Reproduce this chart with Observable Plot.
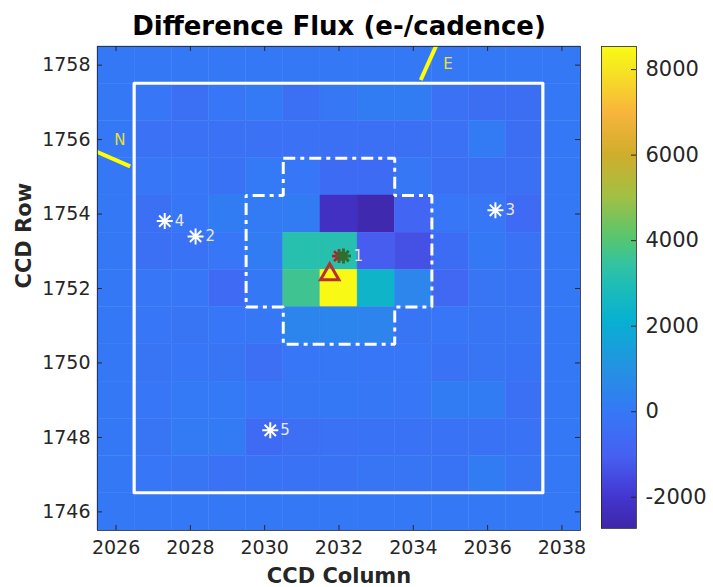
<!DOCTYPE html>
<html><head><meta charset="utf-8">
<script src="https://cdn.jsdelivr.net/npm/d3@7"></script>
<script src="https://cdn.jsdelivr.net/npm/@observablehq/plot@0.6"></script>
<style>
body{margin:0;background:#fff;}
#wrap{position:relative;width:713px;height:587px;}
#wrap svg{position:absolute;top:0;}
</style></head><body><div id="wrap"></div>
<script>
// ---- data ----
const columns = [2026,2027,2028,2029,2030,2031,2032,2033,2034,2035,2036,2037,2038];
const rows = [1758,1757,1756,1755,1754,1753,1752,1751,1750,1749,1748,1747,1746];
// difference flux (e-/cadence), rows top (1758) to bottom (1746), columns 2026..2038
const flux = [
  [0,    0,    0,    0,    0,    0,    0,    0,    0,    0,    0,    0,   0],
  [0, -100, -350, -100,   50, -350,  -50,  150,  150, -300, -450, -450,  0],
  [0, -300, -300, -300, -300, -300, -350, -350, -350, -300,  100, -450,  0],
  [0, -100, -100, -250,   50, -100, -550, -550,  -50, -350, -350, -350,  0],
  [0, -350, -100,  150,  100,  150,-2250,-2600, -800, -100, -100, -600,  0],
  [0, -350, -250, -100,  150, 3150, 3150,-1100,-1400, -500,    0, -250,  0],
  [0, -100, -100, -600,    0, 3650, 8500, 2400,  550, -700, -150, -200,  0],
  [0, -100, -150, -100,  -50,  500,  500,  450, -150, -100, -150, -150,  0],
  [0, -150, -100, -150, -400, -100,  -50, -100, -100, -250, -150, -200,  0],
  [0, -100,   50,   50, -100,  -50,    0,  -50, -100,  150,  150, -350,  0],
  [0, -150,  100,  100, -600, -400, -300, -250, -250, -250, -250, -250,  0],
  [0, -100, -150, -300, -200, -250, -250, -150, -150, -200,  150, -150,  0],
  [0,    0,    0,    0,    0,    0,    0,    0,    0,    0,    0,    0,   0]
];
const xTicks = [2026,2028,2030,2032,2034,2036,2038];
const yTicks = [1746,1748,1750,1752,1754,1756,1758];
const colorTicks = [-2000,0,2000,4000,6000,8000];
const colorDomain = [-2730, 8540];
// target pixel stamp (white box)
const stampCols = [2027, 2037];
const stampRows = [1747, 1757];
// optimal aperture: per row, first and last column
const apertureRows = [1755, 1754, 1753, 1752, 1751];
const apertureFirstCol = [2031, 2030, 2030, 2030, 2031];
const apertureLastCol = [2033, 2034, 2034, 2034, 2033];
// catalog stars
const starLabels = ["1","2","3","4","5"];
const starCols = [2032.12, 2028.14, 2036.21, 2027.31, 2030.15];
const starRows = [1752.87, 1753.40, 1754.10, 1753.81, 1748.19];
// difference-image centroid (red triangle)
const centroidCol = [2031.75];
const centroidRow = [1752.38];
// compass
const compassLabels = ["N","E"];
const compassCol0 = [2026.38, 2034.20];
const compassRow0 = [1755.28, 1757.60];
const compassCol1 = [2025.30, 2034.66];
const compassRow1 = [1755.75, 1758.62];
const compassLabelCol = [2026.10, 2034.93];
const compassLabelRow = [1755.98, 1758.03];

// parula-like colormap stops
const cmapStops  = [0.000,0.065,0.150,0.242,0.330,0.430,0.500,0.550,0.600,0.690,0.775,0.860,0.950,1.000];
const cmapColors = ["#3e26a8","#4336d0","#4660f2","#3578f6","#2492e2","#08b0d2","#1dbcb8","#35c3a0","#55c670","#a2c043","#d0ad2c","#f8b43c","#f6e422","#f9fb15"];

// ---- build ----
const cmap = d3.scaleLinear().domain(cmapStops).range(cmapColors).interpolate(d3.interpolateRgb).clamp(true);
const colorOpts = {type: "linear", domain: colorDomain, interpolate: t => cmap(t)};

const cells = [];
rows.forEach((r, i) => columns.forEach((c, j) => cells.push({col: c, row: r, v: flux[i][j]})));

const stamp = [{x1: stampCols[0] - 0.5, x2: stampCols[1] + 0.5, y1: stampRows[0] - 0.5, y2: stampRows[1] + 0.5}];

const apStart = {x: apertureFirstCol[0] - 0.5, y: apertureRows[0] + 0.5};
const apertureLine = [apStart];
apertureRows.forEach((r, i) => {
  apertureLine.push({x: apertureLastCol[i] + 0.5, y: r + 0.5});
  apertureLine.push({x: apertureLastCol[i] + 0.5, y: r - 0.5});
});
for (let i = apertureRows.length - 1; i >= 0; i--) {
  const r = apertureRows[i];
  apertureLine.push({x: apertureFirstCol[i] - 0.5, y: r - 0.5});
  apertureLine.push({x: apertureFirstCol[i] - 0.5, y: r + 0.5});
}

const stars = starLabels.map((s, i) => ({label: s, col: starCols[i], row: starRows[i]}));
const centroid = centroidCol.map((c, i) => ({col: c, row: centroidRow[i]}));
const compass = compassLabels.map((s, i) => ({label: s, c0: compassCol0[i], r0: compassRow0[i], c1: compassCol1[i], r1: compassRow1[i], lc: compassLabelCol[i], lr: compassLabelRow[i]}));

const asterisk = {draw(ctx, size) {
  const r = Math.sqrt(size / Math.PI);
  for (let k = 0; k < 4; k++) {
    const a = k * Math.PI / 4, cx = r * Math.cos(a), cy = r * Math.sin(a);
    ctx.moveTo(cx, cy); ctx.lineTo(-cx, -cy);
  }
}};

const W = 713, H = 587, mL = 97, mR = 133, mT = 46, mB = 57;
const fw = W - mL - mR, fh = H - mT - mB;
const ink = "#262626";

const main = Plot.plot({
  width: W, height: H,
  marginLeft: mL, marginRight: mR, marginTop: mT, marginBottom: mB,
  style: {fontFamily: "DejaVu Sans, sans-serif", color: ink, background: "transparent", overflow: "visible"},
  x: {domain: [2025.5, 2038.5]},
  y: {domain: [1745.5, 1758.5]},
  color: colorOpts,
  marks: [
    Plot.rect(cells, {x1: d => d.col - 0.5, x2: d => d.col + 0.5, y1: d => d.row - 0.5, y2: d => d.row + 0.5, fill: "v", stroke: "v", strokeWidth: 0.4}),
    Plot.rect(stamp, {x1: "x1", x2: "x2", y1: "y1", y2: "y2", fill: "none", stroke: "white", strokeWidth: 3.2, strokeLinejoin: "round"}),
    Plot.line(apertureLine, {x: "x", y: "y", stroke: "white", strokeWidth: 3, strokeDasharray: "12,5,4,5", strokeLinecap: "butt", strokeLinejoin: "miter"}),
    Plot.link(compass, {x1: "c0", y1: "r0", x2: "c1", y2: "r1", stroke: "#ffff00", strokeWidth: 4, clip: true}),
    Plot.text(compass, {x: "lc", y: "lr", text: "label", fill: "#e8e03a", fontSize: 15}),
    Plot.dot(stars.slice(1), {x: "col", y: "row", symbol: asterisk, r: 8, stroke: "white", strokeWidth: 2, fill: "none"}),
    Plot.dot(stars.slice(0, 1), {x: d => d.col - 0.12, y: "row", symbol: asterisk, r: 7, stroke: "#b22222", strokeWidth: 2.6, fill: "none"}),
    Plot.dot(stars.slice(0, 1), {x: "col", y: "row", symbol: asterisk, r: 7.5, stroke: "#2e6e2e", strokeWidth: 3, fill: "none"}),
    Plot.text(stars, {x: "col", y: "row", text: "label", dx: 10, textAnchor: "start", fill: "#e6e6ee", fontSize: 15}),
    Plot.dot(centroid, {x: "col", y: "row", symbol: "triangle", r: 6.8, stroke: "#b8302a", strokeWidth: 3, fill: "none"}),
    Plot.ruleX(xTicks, {x: d => d, insetTop: fh - 5, stroke: ink}),
    Plot.ruleX(xTicks, {x: d => d, insetBottom: fh - 5, stroke: ink}),
    Plot.ruleY(yTicks, {y: d => d, insetRight: fw - 5, stroke: ink}),
    Plot.ruleY(yTicks, {y: d => d, insetLeft: fw - 5, stroke: ink}),
    Plot.frame({stroke: ink, strokeWidth: 0.8}),
    Plot.axisX({ticks: xTicks, anchor: "bottom", tickSize: 0, tickPadding: 10, fontSize: 19, tickFormat: d => String(d), label: null}),
    Plot.axisY({ticks: yTicks, anchor: "left", tickSize: 0, tickPadding: 7, fontSize: 19, tickFormat: d => String(d), label: null}),
    Plot.text(["Difference Flux (e-/cadence)"], {frameAnchor: "top", dy: -12, lineAnchor: "bottom", fontSize: 26, fontWeight: "bold", fill: "#000"}),
    Plot.text(["CCD Column"], {frameAnchor: "bottom", dy: 52, lineAnchor: "bottom", fontSize: 21, fontWeight: "bold", fill: ink}),
    Plot.text(["CCD Row"], {frameAnchor: "left", dx: -73, rotate: -90, lineAnchor: "middle", fontSize: 21, fontWeight: "bold", fill: ink})
  ]
});

const cbN = 240;
const cbBins = d3.range(cbN).map(i => ({
  lo: colorDomain[0] + i * (colorDomain[1] - colorDomain[0]) / cbN,
  hi: colorDomain[0] + (i + 1) * (colorDomain[1] - colorDomain[0]) / cbN
}));

const cbLeft = 590;
const colorbar = Plot.plot({
  width: W - cbLeft, height: H,
  marginLeft: 601 - cbLeft, marginRight: W - 636, marginTop: 46, marginBottom: H - 528,
  style: {fontFamily: "DejaVu Sans, sans-serif", color: ink, background: "transparent", overflow: "visible"},
  y: {domain: colorDomain},
  color: colorOpts,
  marks: [
    Plot.rect(cbBins, {y1: "lo", y2: "hi", fill: d => (d.lo + d.hi) / 2, shapeRendering: "crispEdges"}),
    Plot.ruleY(colorTicks, {y: d => d, insetLeft: 30, stroke: ink}),
    Plot.frame({stroke: ink, strokeWidth: 0.8}),
    Plot.axisY({ticks: colorTicks, anchor: "right", tickSize: 0, tickPadding: 9, fontSize: 21, tickFormat: d => String(d), label: null})
  ]
});

const wrap = document.getElementById("wrap");
main.style.left = "0px";
colorbar.style.left = cbLeft + "px";
wrap.appendChild(main);
wrap.appendChild(colorbar);
</script>
</body></html>
